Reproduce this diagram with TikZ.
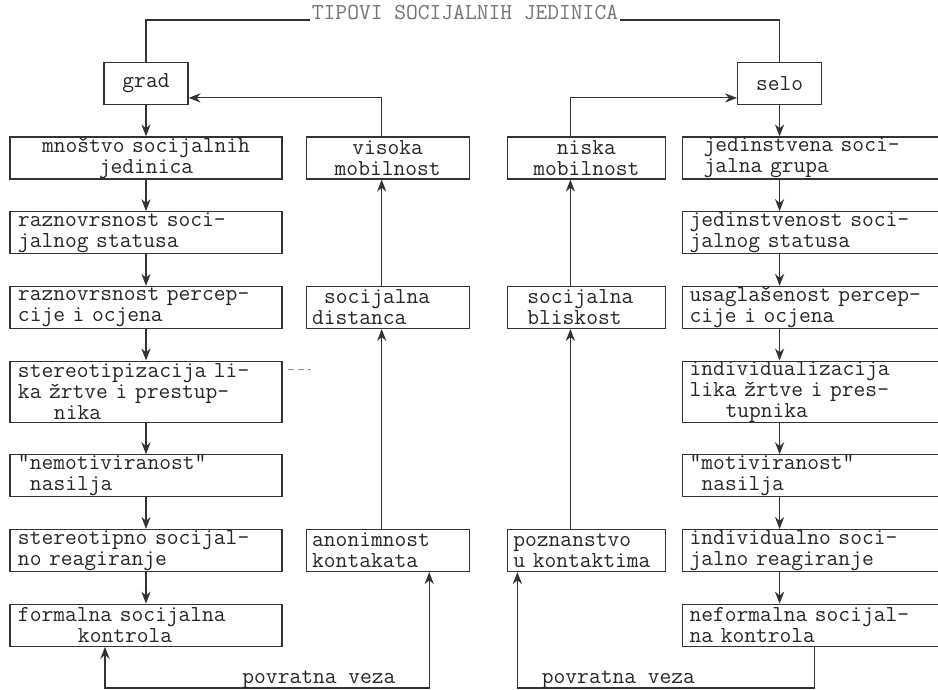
\documentclass[tikz,border=0pt]{standalone}
\usepackage{fontspec}
\newfontfamily\pisaca{Latin Modern Mono}
\usetikzlibrary{arrows.meta,
                positioning}
\tikzset{
	%Define standard arrow tip
	>={Stealth[length=6pt,width=4.6pt]},
	%Define style for boxes
	kutija/.style={
	       rectangle,
	       draw=black!80, line width=0.6pt,
	       inner ysep=0pt,
	       minimum height=21pt,
	       font=\pisaca\fontsize{11.43pt}{10.5pt}\selectfont,
	       text=black!85,
	       align=left},
	lijevo/.style={kutija, text width=128pt, inner xsep=4pt},
	sredina/.style={kutija, text width=75.5pt, inner xsep=3pt},
	sredinb/.style={kutija, text width=73pt, inner xsep=3pt},
	desno/.style={kutija, text width=121pt, inner xsep=3.5pt},
	mali/.style={kutija, minimum width=42pt, align=center},
	tri/.style={minimum height=30.5pt},
	% Define text and arrow style
	natpis/.style={
	       font=\pisaca\fontsize{11.43pt}{10.5pt}\selectfont,
	       text=black!85,
	       anchor=base,
	       yshift=2.5pt},
	veza/.style={draw=black!80, line width=0.6pt},
	strelica/.style={
	       ->,
	       veza}
}

\begin{document}
\begin{tikzpicture}[node distance=15.75pt]
	\useasboundingbox (0,0) rectangle (469pt,-345pt);
	% grad
	\node[lijevo, align=center, at={(73pt,-79pt)}](mnostvo){mnoštvo socijalnih\\jedinica};
	\node[mali, above=of mnostvo](grad){grad}
	edge[strelica](mnostvo);
	\node[lijevo, below=of mnostvo](razn_status){raznovrsnost soci-\\jalnog statusa}
	edge[strelica, <-](mnostvo);
	\node[lijevo, below=of razn_status](razn_perc){raznovrsnost percep-\\cije i ocjena}
	edge[strelica, <-](razn_status);
	\node[lijevo, tri, below=of razn_perc](stereo){stereotipizacija li-\\ka žrtve i prestup-\\\hspace*{18pt}nika}
	edge[strelica, <-](razn_perc);
	\node[lijevo, below=of stereo](nemotiv){"nemotiviranost"\\\hspace*{6pt}nasilja}
	edge[strelica, <-](stereo);
	\node[lijevo, below=of nemotiv](stereo_reag){stereotipno socijal-\\no reagiranje}
	edge[strelica, <-](nemotiv);
	\node[lijevo, below=of stereo_reag](formalna){formalna socijalna\\\hspace*{30pt}kontrola}
	edge[strelica, <-](stereo_reag);
	% sredina
	\node[sredina, align=center, right=11.5pt of mnostvo](visoka){visoka\\mobilnost};
	\node[sredina, right=11.5pt of razn_perc](distanca){\hspace*{6pt}socijalna\\distanca};
	\node[sredina, right=11.5pt of stereo_reag](anonim){anonimnost\\kontakata};
	\node[sredinb, align=center, right=18.5pt of visoka](niska){niska\\mobilnost};
	\node[sredinb, right=18.5pt of distanca](bliskost){\hspace*{7pt}socijalna\\\hspace*{7pt}bliskost};
	\node[sredinb, right=18.5pt of anonim](poznanstvo){poznanstvo\\u kontaktima};
	% selo
	\node[desno, right=8pt of niska](jed_grupa){\hspace*{7pt}jedinstvena soci-\\\hspace*{7pt}jalna grupa};
	\node[desno, below=of jed_grupa](jed_status){jedinstvenost soci-\\jalnog statusa};
	\node[desno, below=of jed_status](usagl){usaglašenost percep-\\cije i ocjena};
	\node[desno, tri, below=of usagl](individ){individualizacija\\lika žrtve i pres-\\\hspace*{18pt}tupnika};
	\node[desno, below=of individ](motiv){"motiviranost"\\\hspace*{6pt}nasilja};
	\node[desno, below=of motiv](indiv_reag){individualno soci-\\jalno reagiranje};
	\node[desno, below=of indiv_reag](neformalna){neformalna socijal-\\na kontrola};
	\node[mali, above=of jed_grupa, xshift=-15.5pt](selo){selo};
	\draw[strelica] (selo.south) -- (selo.south |- jed_grupa.north);
	\foreach \a/\b in {jed_grupa/jed_status, jed_status/usagl, usagl/individ,
	                   individ/motiv, motiv/indiv_reag, indiv_reag/neformalna}
		\draw[strelica] ([xshift=-15.5pt]\a.south) -- ([xshift=-15.5pt]\b.north);
	% mobilnost
	\draw[strelica] ([xshift=-3pt]distanca.north) -- ([xshift=-3pt]visoka.south);
	\draw[strelica] ([xshift=-3pt]anonim.north) -- ([xshift=-3pt]distanca.south);
	\draw[strelica] ([xshift=-3pt]visoka.north) |- ([yshift=3.5pt]grad.south east);
	\draw[strelica] ([xshift=-8pt]bliskost.north) -- ([xshift=-8pt]niska.south);
	\draw[strelica] ([xshift=-8pt]poznanstvo.north) -- ([xshift=-8pt]bliskost.south);
	\draw[strelica] ([xshift=-8pt]niska.north) |- ([yshift=3.5pt]selo.south west);
	% naslov
	\node[natpis, text=black!55, inner sep=1pt, yshift=-2.5pt] (naslov) at (232.5pt,-10pt) {TIPOVI SOCIJALNIH JEDINICA};
	\draw[veza] (naslov.base west) -| (grad.north);
	\draw[veza] (naslov.base east) -| (selo.north);
	% povratna veza
	\coordinate (dno) at (0,-344pt);
	\coordinate (fl) at ([xshift=-20.5pt]formalna.south);
	\coordinate (an) at ([xshift=20.75pt]anonim.south);
	\coordinate (nf) at ([xshift=2pt]neformalna.south);
	\coordinate (pz) at ([xshift=-34.5pt]poznanstvo.south);
	\draw[strelica, <->] (fl) -- (fl |- dno) -| node[pos=0.33, natpis]{povratna veza} (an);
	\draw[strelica] (nf) -- (nf |- dno) -| node[pos=0.33, natpis]{povratna veza} (pz);
	% crtica
	\coordinate (crtica) at ([shift={(14pt,11.25pt)}]stereo.east);
	\draw[densely dashed, black!45] ([shift={(2.5pt,11.25pt)}]stereo.east) -- (crtica);
\end{tikzpicture}
\end{document}
